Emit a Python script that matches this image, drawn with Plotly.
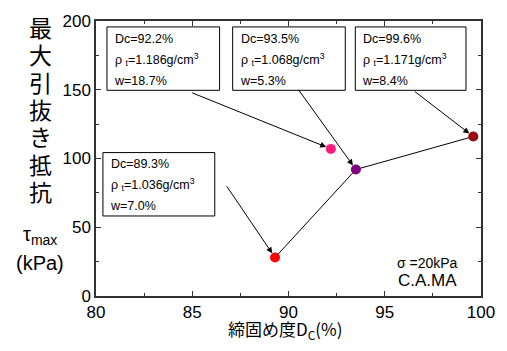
import plotly.graph_objects as go

# Measured points: degree of compaction Dc (%) vs. max pull-out resistance τmax (kPa)
dc = [89.3, 92.2, 93.5, 99.6]
tau = [28, 107, 92, 116]
rho_t = ["1.036", "1.186", "1.068", "1.171"]
w = ["7.0", "18.7", "5.3", "8.4"]
colors = ["#ff0000", "#ff1a80", "#800080", "#9a0a0a"]
# points joined by the trend line (index into the arrays above)
line_idx = [0, 2, 3]

x_ticks = [80, 85, 90, 95, 100]
y_ticks = [0, 50, 100, 150, 200]

# label box layout per point: (box x0, x1, y0, y1), arrow tail (x, y)
boxes = [
    ((80.36, 86.17, 58.2, 104.3), (86.74, 80.9)),
    ((80.57, 86.42, 149.6, 195.7), (84.92, 148.2)),
    ((87.10, 92.95, 149.6, 195.7), (90.47, 151.0)),
    ((93.47, 99.22, 149.6, 195.7), (96.48, 149.6)),
]

fig = go.Figure()
fig.add_trace(go.Scatter(
    x=[dc[i] for i in line_idx], y=[tau[i] for i in line_idx],
    mode="lines", line=dict(color="black", width=1), showlegend=False,
))
fig.add_trace(go.Scatter(
    x=dc, y=tau, mode="markers",
    marker=dict(size=10, color=colors, line=dict(width=0)), showlegend=False,
))

FONT = "Liberation Sans, Arial, sans-serif"
CJK = "Noto Sans CJK JP, sans-serif"
shapes = []
annotations = []
for i, ((x0, x1, y0, y1), (tx, ty)) in enumerate(boxes):
    shapes.append(dict(type="rect", xref="x", yref="y", x0=x0, x1=x1, y0=y0, y1=y1,
                       line=dict(color="black", width=1), fillcolor="white", layer="above"))
    s = "<span style='font-size:12.5px'>%s</span>"
    txt = "<br>".join([
        s % f"Dc={dc[i]}%",
        s % f"ρ <sub>t</sub>=%sg/cm<sup>3</sup>" % rho_t[i],
        s % f"w={w[i]}%",
    ])
    annotations.append(dict(
        xref="x", yref="y", x=x0, y=(y0 + y1) / 2, xanchor="left", yanchor="middle",
        xshift=5, yshift=-1, text=txt, showarrow=False, align="left",
        font=dict(family=FONT, size=16, color="black"),
    ))
    annotations.append(dict(
        xref="x", yref="y", x=dc[i], y=tau[i], axref="x", ayref="y", ax=tx, ay=ty,
        text="", showarrow=True, arrowhead=2, arrowsize=1.2, arrowwidth=1,
        arrowcolor="black", standoff=5,
    ))

ytitle = "<br>".join("<span style='font-size:23px'>%s</span>" % c for c in "最大引抜き抵抗")
annotations += [
    dict(xref="paper", yref="paper", x=-0.145, y=0.68, xanchor="center", yanchor="middle",
         text=ytitle, showarrow=False,
         font=dict(family=CJK, size=21, color="black")),
    dict(xref="paper", yref="paper", x=-0.145, y=0.22, xanchor="center", yanchor="middle",
         text="τ<sub>max</sub>", showarrow=False,
         font=dict(family=FONT, size=20, color="black")),
    dict(xref="paper", yref="paper", x=-0.145, y=0.121, xanchor="center", yanchor="middle",
         text="(kPa)", showarrow=False,
         font=dict(family=FONT, size=20, color="black")),
    dict(xref="paper", yref="paper", x=0.86, y=0.12, xanchor="center", yanchor="middle",
         text="σ =20kPa", showarrow=False,
         font=dict(family=FONT, size=14, color="black")),
    dict(xref="paper", yref="paper", x=0.86, y=0.055, xanchor="center", yanchor="middle",
         text="C.A.MA", showarrow=False,
         font=dict(family=FONT, size=17, color="black")),
    dict(xref="paper", yref="paper", x=0.49, y=-0.12, xanchor="center", yanchor="middle",
         text="締固め度D<sub>C</sub>(%)", showarrow=False,
         font=dict(family=CJK, size=17, color="black")),
]

axis_common = dict(
    showgrid=False, zeroline=False, showline=True, linecolor="#333", linewidth=1.5,
    mirror="ticks", ticks="inside", ticklen=5, tickwidth=1, tickcolor="#333",
    tickfont=dict(family=FONT, size=17, color="black"),
)
fig.update_layout(
    width=507, height=351,
    margin=dict(l=96, r=25, t=14, b=55),
    paper_bgcolor="white", plot_bgcolor="white",
    xaxis=dict(range=[80, 100], tickvals=x_ticks, ticktext=[str(v) for v in x_ticks],
               minor=dict(dtick=2.5, ticks="inside", ticklen=3, tickcolor="#333", showgrid=False),
               **axis_common),
    yaxis=dict(range=[0, 200], tickvals=y_ticks, ticktext=[str(v) for v in y_ticks],
               minor=dict(dtick=25, ticks="inside", ticklen=3, tickcolor="#333", showgrid=False),
               **axis_common),
    shapes=shapes, annotations=annotations,
)
fig.write_html("out.html")
